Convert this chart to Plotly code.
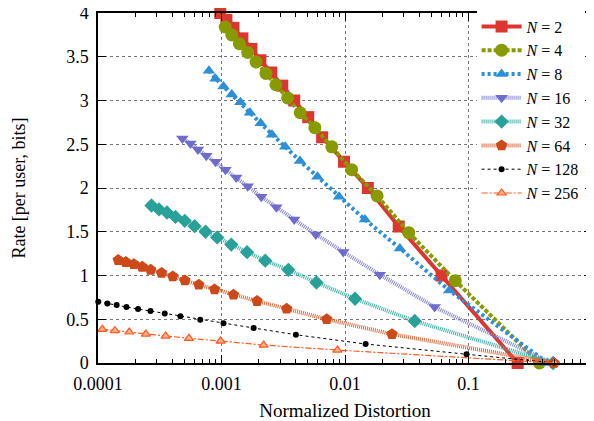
import plotly.graph_objects as go

# Distortion (x) and rate (y)
d_n2 = [0.000977, 0.001096, 0.00125, 0.001476, 0.001746, 0.002065, 0.00253, 0.003105, 0.00388, 0.00504, 0.00653, 0.00982, 0.01531, 0.02723, 0.0605, 0.25]
r_n2 = [4.0, 3.92, 3.83, 3.71, 3.59, 3.46, 3.32, 3.17, 3.0, 2.81, 2.58, 2.3, 2.0, 1.56, 1.0, 0.0]

d_n4 = [0.001072, 0.001211, 0.001396, 0.00163, 0.001905, 0.00229, 0.00276, 0.00343, 0.00434, 0.0057, 0.00782, 0.01132, 0.0182, 0.0328, 0.0782, 0.375]
r_n4 = [3.84, 3.75, 3.65, 3.55, 3.44, 3.31, 3.18, 3.03, 2.86, 2.69, 2.47, 2.21, 1.91, 1.49, 0.94, 0.0]

d_n8 = [0.000791, 0.000895, 0.001038, 0.001211, 0.001422, 0.001702, 0.002075, 0.002564, 0.00328, 0.00432, 0.00598, 0.00895, 0.01449, 0.0278, 0.0698, 0.4375]
r_n8 = [3.34, 3.25, 3.16, 3.07, 2.98, 2.86, 2.74, 2.61, 2.47, 2.31, 2.13, 1.90, 1.64, 1.31, 0.83, 0.0]

d_n16 = [0.000482, 0.00056, 0.000644, 0.000753, 0.000895, 0.001076, 0.001315, 0.00163, 0.0021, 0.00278, 0.00388, 0.00581, 0.00968, 0.01914, 0.0532, 0.469]
r_n16 = [2.565, 2.51, 2.44, 2.37, 2.30, 2.21, 2.12, 2.02, 1.90, 1.78, 1.64, 1.47, 1.27, 1.01, 0.64, 0.0]

d_n32 = [0.000271, 0.000312, 0.000362, 0.000424, 0.000504, 0.000605, 0.000743, 0.000923, 0.0012, 0.00161, 0.00226, 0.00348, 0.00587, 0.01205, 0.0367, 0.484]
r_n32 = [1.80, 1.755, 1.72, 1.67, 1.625, 1.564, 1.50, 1.435, 1.353, 1.267, 1.17, 1.065, 0.92, 0.734, 0.48, 0.0]

d_n64 = [0.000146, 0.000168, 0.000195, 0.000228, 0.000267, 0.000327, 0.000403, 0.000505, 0.000655, 0.000879, 0.00125, 0.00194, 0.00337, 0.00711, 0.0240, 0.492]
r_n64 = [1.176, 1.153, 1.13, 1.099, 1.065, 1.03, 0.99, 0.944, 0.894, 0.841, 0.78, 0.708, 0.62, 0.50, 0.33, 0.0]

d_n128 = [0.0001005, 0.000119, 0.0001416, 0.00017, 0.000211, 0.000266, 0.000347, 0.000465, 0.000673, 0.001038, 0.00182, 0.004, 0.01469, 0.0964, 0.496]
r_n128 = [0.70, 0.68, 0.662, 0.639, 0.616, 0.594, 0.567, 0.533, 0.494, 0.453, 0.40, 0.323, 0.217, 0.10, 0.0]

d_n256 = [0.0001084, 0.000137, 0.000179, 0.000244, 0.000353, 0.000545, 0.000982, 0.002193, 0.00867, 0.498]
r_n256 = [0.385, 0.369, 0.354, 0.331, 0.308, 0.282, 0.251, 0.205, 0.148, 0.0]

labels = ["2", "4", "8", "16", "32", "64", "128", "256"]
x_tickvals = [0.0001, 0.001, 0.01, 0.1, 1]
x_ticktext = ["0.0001", "0.001", "0.01", "0.1", "1"]
y_tickvals = [0, 0.5, 1, 1.5, 2, 2.5, 3, 3.5, 4]
y_ticktext = ["0", "0.5", "1", "1.5", "2", "2.5", "3", "3.5", "4"]

series = [
    (d_n2, r_n2, dict(color="#dd3530", width=4, dash="solid"),
     dict(symbol="square", size=12, color="#dd3530")),
    (d_n4, r_n4, dict(color="#879a00", width=4, dash="4px,2px"),
     dict(symbol="circle", size=13, color="#879a00")),
    (d_n8, r_n8, dict(color="#2b8fd9", width=4, dash="3px,3px"),
     dict(symbol="triangle-up", size=11, color="#2b8fd9")),
    (d_n16, r_n16, dict(color="#8585d6", width=4, dash="1px,1px"),
     dict(symbol="triangle-down", size=11, color="#6d6dcc")),
    (d_n32, r_n32, dict(color="#3fb3aa", width=4, dash="1px,1px"),
     dict(symbol="diamond", size=11, color="#2aa198")),
    (d_n64, r_n64, dict(color="#dd6a3e", width=4, dash="1px,1px"),
     dict(symbol="pentagon", size=12, color="#cc4a1a")),
    (d_n128, r_n128, dict(color="#000000", width=1, dash="3px,3px"),
     dict(symbol="circle", size=6, color="#000000")),
    (d_n256, r_n256, dict(color="#ff5a1f", width=1.2, dash="6px,2px,2px,2px"),
     dict(symbol="triangle-up", size=8, color="#ffb08a",
          line=dict(color="#ff5a1f", width=1.2))),
]

fig = go.Figure()
for lab, (xs, ys, ln, mk) in zip(labels, series):
    fig.add_trace(go.Scatter(
        x=xs, y=ys, mode="lines+markers", name="<i>N</i> = " + lab,
        line=ln, marker=mk, cliponaxis=False,
    ))

minor_vals = [m * 10 ** e for e in range(-4, 0) for m in range(2, 10)]

axis_common = dict(
    showline=True, linecolor="black", linewidth=1.5, mirror="ticks",
    ticks="inside", ticklen=8, tickcolor="black", tickwidth=1,
    showgrid=True, gridcolor="#777777", griddash="dot", gridwidth=1,
    zeroline=False, automargin=False, ticklabeloverflow="allow",
    tickfont=dict(family="Liberation Serif", size=18, color="black"),
)

fig.update_xaxes(
    type="log", range=[-4, 0], tickvals=x_tickvals, ticktext=x_ticktext,
    minor=dict(tickvals=minor_vals, ticks="inside", ticklen=4,
               tickcolor="black", showgrid=False),
    title=dict(text="Normalized Distortion", standoff=10,
               font=dict(family="Liberation Serif", size=19, color="black")),
    ticklabelstandoff=4,
    **axis_common,
)
fig.update_yaxes(
    range=[0, 4], tickvals=y_tickvals, ticktext=y_ticktext,
    title=dict(text="Rate [per user, bits]", standoff=36,
               font=dict(family="Liberation Serif", size=18, color="black")),
    ticklabelstandoff=4,
    **axis_common,
)

# the page body adds an 8px offset, so the figure is sized to compensate
fig.update_layout(
    width=586, height=413,
    margin=dict(l=90, r=2, t=5, b=58),
    plot_bgcolor="white", paper_bgcolor="white",
    legend=dict(
        x=0.985, y=1.01, xanchor="right", yanchor="top",
        bgcolor="white", borderwidth=0,
        font=dict(family="Liberation Serif", size=16, color="black"),
        tracegroupgap=0, itemwidth=40,
    ),
)

fig.write_html("out.html")
